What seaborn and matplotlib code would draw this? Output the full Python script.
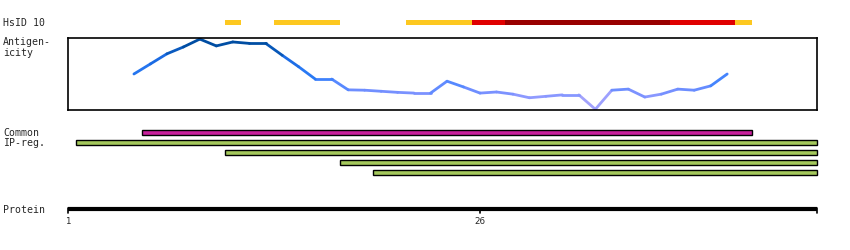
import numpy as np
import pandas as pd
import matplotlib
matplotlib.use("Agg")
import matplotlib.pyplot as plt
from matplotlib.colors import LinearSegmentedColormap
import seaborn as sns

# ---------------- data ----------------
# HsID 10 annotation segments (residue start, end, level)
hsid_start = [10.5, 13.5, 21.5, 25.5, 27.5, 37.5, 41.5]
hsid_end   = [11.5, 17.5, 25.5, 27.5, 37.5, 41.5, 42.5]
hsid_level = ["low", "low", "low", "mid", "high", "mid", "low"]

# Antigenicity profile (normalised 0..1)
ant_pos = list(range(5, 42))
ant_val = [0.50, 0.64, 0.78, 0.875, 0.985, 0.89, 0.945, 0.925, 0.925, 0.76,
           0.60, 0.43, 0.43, 0.28, 0.275, 0.26, 0.245, 0.235, 0.235, 0.40,
           0.32, 0.235, 0.25, 0.22, 0.17, 0.19, 0.21, 0.21, 0.01, 0.275,
           0.29, 0.18, 0.22, 0.29, 0.275, 0.335, 0.50]

# Common / IP regions
common_start = [5.5]
common_end = [42.5]
ipreg_start = [1.5, 10.5, 17.5, 19.5]
ipreg_end = [46.45, 46.45, 46.45, 46.45]

protein_ticks = [1, 26]
protein_end = 46.45

# ---------------- figure ----------------
W, H = 850, 250
fig = plt.figure(figsize=(W / 100, H / 100), dpi=100)
sns.set_style("white")
plt.rcParams['font.family'] = ['DejaVu Sans Mono', 'DejaVu Sans']

X0, X1 = 68, 817
XMIN, XMAX = 1, protein_end


def axes_px(x0, y0, x1, y1):
    return fig.add_axes([x0 / W, 1 - y1 / H, (x1 - x0) / W, (y1 - y0) / H])


# overlay axes in pixel-y units
ov = axes_px(X0, 0, X1, H)
ov.set_xlim(XMIN, XMAX)
ov.set_ylim(H, 0)
ov.axis("off")

level_col = {"low": "#fdc820", "mid": "#e00000", "high": "#990000"}
for s, e, l in zip(hsid_start, hsid_end, hsid_level):
    ov.barh(22.5, e - s, left=s, height=5, color=level_col[l], lw=0, clip_on=False)

for s, e in zip(common_start, common_end):
    ov.barh(132.3, e - s, left=s, height=4.7, color="#c8209c", edgecolor="black",
            lw=1.0, clip_on=False)
for i, (s, e) in enumerate(zip(ipreg_start, ipreg_end)):
    ov.barh(142.3 + 10 * i, e - s, left=s, height=4.7, color="#a4c85c",
            edgecolor="black", lw=1.0, clip_on=False)

# protein axis
ov.plot([XMIN, XMAX], [209, 209], color="black", lw=3, solid_capstyle="butt", clip_on=False)
for t in protein_ticks + [XMAX]:
    ov.plot([t, t], [208, 213], color="black", lw=1.2, clip_on=False)
for t in protein_ticks:
    ov.text(t, 222, str(t), ha="center", va="center", fontsize=6.3,
            family="DejaVu Sans", clip_on=False)

# antigenicity axes
ax = axes_px(X0, 38, X1, 110)
ax.set_xlim(XMIN, XMAX)
ax.set_ylim(0, 1)
ax.set_xticks([])
ax.set_yticks([])
for sp in ax.spines.values():
    sp.set_color("black")
    sp.set_linewidth(1.2)

rows = []
for i in range(len(ant_pos) - 1):
    c = (ant_val[i] + ant_val[i + 1]) / 2
    rows.append({"seg": i, "x": ant_pos[i], "y": ant_val[i], "c": c})
    rows.append({"seg": i, "x": ant_pos[i + 1], "y": ant_val[i + 1], "c": c})
df = pd.DataFrame(rows)

cmap = LinearSegmentedColormap.from_list(
    "ant",
    [(0.0, "#b4a6f2"), (0.15, "#9ca0ff"), (0.25, "#7690ff"), (0.4, "#4a86ff"),
     (0.5, "#2a7af5"), (0.75, "#1868e0"), (0.88, "#0050a8"), (1.0, "#004a9c")])
sns.lineplot(data=df, x="x", y="y", units="seg", estimator=None, hue="c",
             palette=cmap, hue_norm=(0, 1), legend=False, lw=2.0, ax=ax,
             sort=False, solid_capstyle="round")
ax.set_xlabel("")
ax.set_ylabel("")

# labels
def lab(x, y, s):
    fig.text(x / W, 1 - y / H, s, ha="left", va="center", fontsize=7.1)

lab(3, 22.5, "HsID 10")
lab(3, 42, "Antigen-")
lab(3, 52.5, "icity")
lab(3, 132.5, "Common")
lab(3, 143, "IP-reg.")
lab(3, 210, "Protein")

fig.savefig("out.png", dpi=100)
